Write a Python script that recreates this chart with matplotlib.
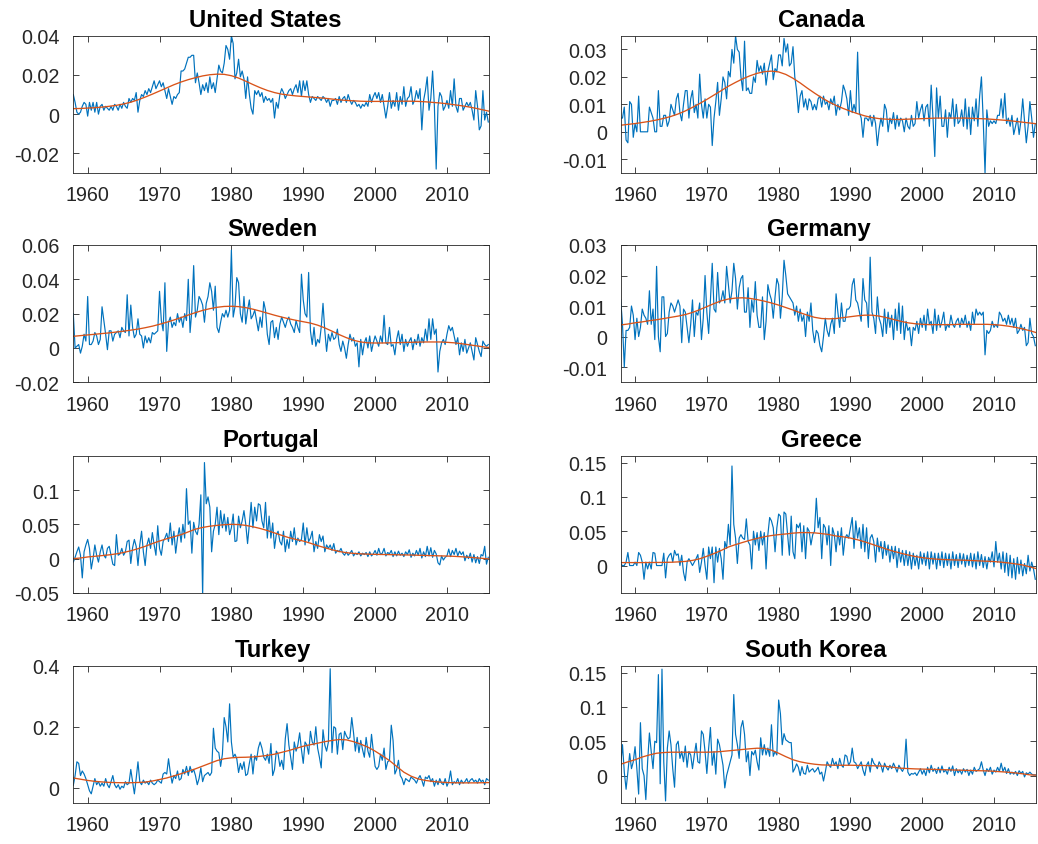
import numpy as np
import matplotlib
matplotlib.use("Agg")
import matplotlib.pyplot as plt
from matplotlib.ticker import FuncFormatter, FixedLocator

plt.rcParams['font.family'] = ['Liberation Sans', 'DejaVu Sans']
plt.rcParams['axes.unicode_minus'] = False

# ---------------- data (quarterly, starting 1958Q1) ----------------
start_year = 1958.0
countries = ["United States", "Canada", "Sweden", "Germany",
             "Portugal", "Greece", "Turkey", "South Korea"]

us = [
    0.010, 0.006, 0.001, 0.000,  0.001, 0.004, 0.006, 0.005,  -0.001, 0.006, 0.002, 0.006,
    0.001, 0.006, 0.000, 0.004,  0.005, 0.002, 0.004, 0.003,  0.002, 0.004, 0.002, 0.005,
    0.004, 0.002, 0.005, 0.003,  0.006, 0.004, 0.003, 0.008,  0.006, 0.008, 0.007, 0.011,
    0.001, 0.007, 0.010, 0.009,  0.012, 0.010, 0.013, 0.011,  0.014, 0.017, 0.013, 0.015,
    0.017, 0.014, 0.016, 0.012,  0.008, 0.013, 0.009, 0.005,  0.009, 0.008, 0.010, 0.011,
    0.022, 0.022, 0.023, 0.026,  0.029, 0.029, 0.030, 0.030,  0.016, 0.021, 0.016, 0.010,
    0.015, 0.012, 0.016, 0.011,  0.019, 0.013, 0.016, 0.011,  0.018, 0.025, 0.022, 0.021,
    0.026, 0.035, 0.033, 0.028,  0.040, 0.036, 0.018, 0.021,  0.028, 0.019, 0.022, 0.018,
    0.008, 0.019, 0.010, 0.003,  0.000, 0.012, 0.010, 0.012,  0.009, 0.011, 0.006, 0.009,
    0.007, 0.008, 0.006, 0.008,  -0.002, 0.006, 0.003, 0.010,  0.013, 0.011, 0.008, 0.010,
    0.012, 0.013, 0.010, 0.013,  0.015, 0.011, 0.017, 0.009,  0.017, 0.012, 0.017, 0.010,
    0.006, 0.009, 0.008, 0.007,  0.009, 0.008, 0.007, 0.009,  0.008, 0.006, 0.008, 0.004,
    0.007, 0.007, 0.008, 0.005,  0.009, 0.006, 0.008, 0.009,  0.006, 0.010, 0.007, 0.005,
    0.007, 0.006, 0.004, 0.005,  0.003, 0.005, 0.004, 0.006,  0.004, 0.010, 0.006, 0.009,
    0.011, 0.008, 0.011, 0.006,  0.010, 0.004, -0.002, 0.004,  0.011, 0.003, 0.007, 0.004,
    0.011, 0.002, 0.009, 0.005,  0.014, 0.004, 0.008, 0.009,  0.014, 0.005, 0.007, 0.012,
    0.008, 0.013, -0.008, 0.007,  0.012, 0.019, 0.002, 0.008,  0.022, 0.004, -0.028, 0.004,
    0.011, 0.009, 0.002, 0.004,  0.007, 0.003, 0.012, 0.004,  0.018, 0.004, 0.001, 0.008,
    0.008, 0.002, 0.004, 0.006,  0.004, 0.006, 0.002, -0.003,  0.012, 0.004, -0.008, -0.006,
    0.012, -0.003, 0.001, -0.004,
]
us_trend = [
    0.0028, 0.0029, 0.0031, 0.0033, 0.0036, 0.0040, 0.0045, 0.0052, 0.0061, 0.0073,
    0.0087, 0.0102, 0.0118, 0.0134, 0.0150, 0.0164, 0.0176, 0.0186, 0.0195, 0.0201,
    0.0204, 0.0203, 0.0196, 0.0184, 0.0168, 0.0151, 0.0135, 0.0121, 0.0110, 0.0102,
    0.0097, 0.0093, 0.0090, 0.0087, 0.0084, 0.0081, 0.0077, 0.0073, 0.0070, 0.0068,
    0.0066, 0.0065, 0.0065, 0.0065, 0.0066, 0.0066, 0.0066, 0.0066, 0.0065, 0.0063,
    0.0060, 0.0057, 0.0053, 0.0048, 0.0043, 0.0037, 0.0030, 0.0022, 0.0014,
]

canada = [
    0.005, 0.005, 0.009, -0.003,  -0.004, 0.011, 0.010, -0.002,  0.003, 0.000, 0.013, 0.000,
    0.000, 0.000, 0.000, 0.000,  0.009, 0.007, 0.005, 0.000,  0.000, 0.015, 0.002, 0.002,
    0.006, 0.006, 0.002, 0.004,  0.010, 0.008, 0.006, 0.012,  0.014, 0.007, 0.004, 0.010,
    0.015, 0.015, 0.005, 0.012,  0.015, 0.007, 0.010, 0.005,  0.021, 0.010, 0.005, 0.012,
    0.005, 0.010, 0.009, -0.005,  0.005, 0.011, 0.018, 0.006,  0.012, 0.020, 0.018, 0.012,
    0.022, 0.020, 0.030, 0.025,  0.035, 0.030, 0.029, 0.020,  0.015, 0.033, 0.015, 0.016,
    0.014, 0.014, 0.020, 0.018,  0.026, 0.022, 0.024, 0.021,  0.025, 0.017, 0.022, 0.025,
    0.028, 0.019, 0.023, 0.022,  0.028, 0.028, 0.024, 0.034,  0.029, 0.032, 0.024, 0.025,
    0.031, 0.020, 0.015, 0.007,  0.013, 0.015, 0.009, 0.012,  0.008, 0.012, 0.011, 0.008,
    0.010, 0.008, 0.012, 0.013,  0.009, 0.013, 0.010, 0.011,  0.008, 0.012, 0.010, 0.013,
    0.006, 0.010, 0.008, 0.011,  0.017, 0.015, 0.012, 0.006,  0.015, 0.007, 0.010, 0.007,
    0.029, 0.007, 0.005, -0.002,  0.005, 0.005, 0.004, 0.006,  0.002, 0.006, 0.003, -0.005,
    0.001, 0.005, 0.002, 0.010,  0.008, 0.000, 0.005, 0.003,  0.007, 0.001, 0.006, 0.002,
    0.005, 0.004, 0.000, 0.005,  0.002, 0.001, 0.006, 0.002,  0.003, 0.011, 0.005, 0.008,
    0.010, 0.004, 0.009, 0.010,  0.002, 0.017, 0.005, -0.009,  0.016, 0.005, 0.013, 0.002,
    0.002, 0.008, -0.002, 0.007,  0.005, 0.012, 0.002, 0.010,  0.003, 0.004, 0.008, 0.002,
    0.012, 0.001, 0.009, -0.001,  0.009, 0.004, 0.012, 0.002,  0.013, 0.020, 0.004, -0.015,
    0.008, 0.002, 0.004, 0.003,  0.004, 0.003, 0.006, 0.006,  0.012, 0.005, 0.014, 0.003,
    0.005, 0.002, 0.006, -0.001,  0.002, 0.005, -0.001, 0.004,  0.012, 0.004, -0.004, 0.002,
    0.011, 0.005, -0.002, 0.003,
]
canada_trend = [
    0.0024, 0.0027, 0.0030, 0.0034, 0.0038, 0.0043, 0.0049, 0.0056, 0.0065, 0.0076,
    0.0089, 0.0103, 0.0118, 0.0134, 0.0150, 0.0166, 0.0180, 0.0193, 0.0204, 0.0213,
    0.0219, 0.0221, 0.0218, 0.0209, 0.0195, 0.0178, 0.0159, 0.0141, 0.0124, 0.0109,
    0.0096, 0.0085, 0.0075, 0.0066, 0.0058, 0.0052, 0.0048, 0.0046, 0.0045, 0.0045,
    0.0046, 0.0047, 0.0048, 0.0049, 0.0050, 0.0050, 0.0050, 0.0050, 0.0050, 0.0049,
    0.0048, 0.0047, 0.0045, 0.0043, 0.0041, 0.0038, 0.0035, 0.0032, 0.0029,
]

sweden = [
    0.020, 0.000, 0.001, 0.002,  -0.003, 0.001, 0.008, 0.004,  0.030, 0.002, 0.002, 0.004,
    0.009, 0.007, 0.002, 0.005,  0.024, 0.016, 0.008, -0.001,  0.010, 0.010, 0.004, 0.008,
    0.009, 0.010, 0.006, 0.012,  0.010, 0.009, 0.031, 0.007,  0.025, 0.012, 0.006, 0.008,
    0.017, 0.008, 0.007, 0.000,  0.007, 0.003, 0.006, 0.003,  0.009, 0.008, 0.009, 0.010,
    0.033, 0.016, 0.010, 0.038,  -0.002, 0.015, 0.018, 0.012,  0.015, 0.013, 0.020, 0.015,
    0.018, 0.012, 0.020, 0.016,  0.040, 0.009, 0.022, 0.048,  0.018, 0.022, 0.030, 0.028,
    0.025, 0.015, 0.026, 0.030,  0.038, 0.033, 0.022, 0.036,  0.012, 0.009, 0.015, 0.020,
    0.018, 0.022, 0.018, 0.022,  0.057, 0.018, 0.024, 0.041,  0.038, 0.020, 0.015, 0.030,
    0.014, 0.022, 0.028, 0.017,  0.019, 0.022, 0.016, 0.010,  0.018, 0.012, 0.027, 0.022,
    0.008, 0.002, 0.015, 0.016,  0.006, 0.012, 0.005, 0.014,  0.018, 0.015, 0.012, 0.016,
    0.018, 0.014, 0.012, 0.009,  0.016, 0.012, 0.009, 0.043,  0.028, 0.020, 0.018, 0.044,
    0.010, 0.002, 0.012, 0.001,  0.005, 0.003, 0.012, 0.026,  0.010, -0.002, 0.008, 0.004,
    0.009, 0.005, 0.006, 0.011,  0.002, -0.002, 0.004, 0.000,  -0.006, 0.002, 0.008, 0.004,
    0.006, 0.001, 0.003, -0.011,  0.005, -0.004, 0.003, 0.006,  0.000, 0.007, -0.002, 0.003,
    0.007, 0.004, 0.001, 0.007,  0.003, 0.019, 0.003, 0.002,  0.012, 0.001, 0.002, -0.004,
    0.005, 0.010, 0.002, 0.008,  -0.002, 0.005, 0.001, 0.004,  0.006, -0.001, 0.005, 0.002,
    0.008, 0.001, 0.006, 0.003,  0.011, 0.004, 0.017, 0.005,  0.017, 0.008, 0.011, -0.014,
    -0.002, 0.003, 0.005, 0.002,  0.008, 0.013, 0.010, 0.012,  0.007, 0.002, 0.006, -0.004,
    0.003, -0.002, 0.005, -0.003,  0.000, 0.003, -0.002, -0.007,  0.006, 0.002, -0.002, -0.005,
    0.004, 0.002, 0.001, 0.002,
]
sweden_trend = [
    0.0068, 0.0072, 0.0076, 0.0080, 0.0084, 0.0088, 0.0093, 0.0098, 0.0104, 0.0110,
    0.0118, 0.0127, 0.0138, 0.0150, 0.0163, 0.0177, 0.0192, 0.0206, 0.0219, 0.0229,
    0.0237, 0.0242, 0.0243, 0.0241, 0.0235, 0.0226, 0.0215, 0.0203, 0.0191, 0.0180,
    0.0170, 0.0161, 0.0153, 0.0145, 0.0133, 0.0117, 0.0098, 0.0078, 0.0060, 0.0045,
    0.0035, 0.0030, 0.0029, 0.0029, 0.0030, 0.0031, 0.0032, 0.0033, 0.0034, 0.0035,
    0.0035, 0.0035, 0.0033, 0.0030, 0.0025, 0.0019, 0.0013, 0.0007, 0.0002,
]

germany = [
    0.012, 0.004, -0.010, 0.002,  0.002, 0.003, 0.010, 0.007,  -0.001, 0.006, 0.000, 0.003,
    0.009, 0.007, 0.006, 0.004,  0.015, 0.004, 0.009, -0.001,  0.023, 0.000, -0.005, 0.013,
    0.013, 0.000, 0.001, 0.008,  0.011, 0.010, 0.008, 0.010,  0.012, 0.010, -0.002, 0.009,
    0.008, 0.003, -0.002, 0.004,  0.012, 0.000, 0.008, 0.007,  0.011, -0.001, 0.006, 0.020,
    0.008, 0.001, 0.012, 0.024,  0.009, 0.008, 0.021, 0.011,  0.012, 0.015, 0.011, 0.023,
    0.017, 0.011, 0.015, 0.024,  0.019, 0.009, 0.016, 0.019,  0.020, 0.008, 0.008, 0.016,
    0.003, 0.012, 0.008, 0.018,  0.007, 0.003, 0.003, 0.013,  -0.001, 0.005, 0.017, 0.014,
    0.012, 0.006, 0.013, 0.019,  0.017, 0.006, 0.013, 0.025,  0.020, 0.014, 0.013, 0.012,
    0.011, 0.007, 0.010, 0.005,  0.009, 0.005, 0.007, 0.000,  0.008, 0.005, 0.011, 0.002,
    -0.002, 0.002, 0.001, -0.003,  -0.005, 0.000, 0.006, 0.002,  0.000, 0.004, 0.006, 0.001,
    0.014, 0.008, 0.003, 0.011,  0.005, 0.005, 0.009, 0.009,  0.010, 0.017, 0.019, 0.012,
    0.011, 0.008, 0.005, 0.019,  0.012, 0.011, 0.003, 0.026,  0.008, 0.006, 0.001, 0.013,
    0.006, 0.004, 0.000, 0.009,  0.001, 0.008, 0.003, 0.007,  -0.001, 0.009, 0.002, 0.011,
    0.001, 0.010, -0.001, 0.005,  0.002, 0.003, -0.003, 0.003,  0.002, 0.005, 0.001, 0.006,
    0.003, 0.007, 0.002, 0.009,  0.004, 0.005, 0.001, 0.009,  0.002, 0.007, 0.003, 0.005,
    0.008, 0.002, 0.004, 0.003,  0.007, 0.004, 0.003, 0.005,  0.006, 0.003, 0.006, 0.004,
    0.007, 0.003, 0.005, 0.002,  0.008, 0.004, 0.009, 0.007,  0.008, 0.007, 0.008, -0.006,
    0.002, 0.001, 0.002, 0.005,  0.003, 0.004, 0.003, 0.008,  0.007, 0.005, 0.006, 0.004,
    0.007, 0.004, 0.006, 0.003,  0.006, 0.001, 0.002, 0.004,  0.002, 0.003, -0.003, -0.002,
    0.006, 0.001, 0.000, -0.003,
]
germany_trend = [
    0.0038, 0.0041, 0.0045, 0.0048, 0.0052, 0.0055, 0.0059, 0.0063, 0.0067, 0.0072,
    0.0079, 0.0088, 0.0098, 0.0108, 0.0117, 0.0123, 0.0126, 0.0127, 0.0125, 0.0121,
    0.0116, 0.0110, 0.0103, 0.0095, 0.0087, 0.0078, 0.0070, 0.0063, 0.0059, 0.0058,
    0.0059, 0.0062, 0.0065, 0.0068, 0.0070, 0.0070, 0.0067, 0.0062, 0.0056, 0.0050,
    0.0045, 0.0042, 0.0040, 0.0039, 0.0039, 0.0039, 0.0039, 0.0040, 0.0040, 0.0040,
    0.0040, 0.0040, 0.0039, 0.0037, 0.0034, 0.0030, 0.0025, 0.0019, 0.0012,
]

portugal = [
    -0.005, 0.002, 0.010, 0.017,  0.005, -0.028, 0.010, 0.020,  0.028, 0.015, -0.015, 0.000,
    0.020, 0.005, -0.005, 0.010,  0.020, 0.005, 0.001, 0.015,  0.018, 0.005, -0.008, -0.010,
    0.035, 0.005, 0.007, 0.015,  0.005, 0.010, 0.025, 0.027,  -0.007, 0.016, 0.028, 0.018,
    -0.010, 0.020, 0.040, 0.010,  -0.010, 0.020, 0.030, 0.015,  0.038, 0.020, 0.005, 0.048,
    0.015, 0.005, 0.025, 0.030,  0.037, 0.025, 0.052, 0.020,  0.040, 0.008, 0.030, 0.045,
    0.024, 0.050, 0.030, 0.102,  0.050, 0.055, 0.008, 0.053,  0.040, 0.035, 0.050, 0.093,
    -0.055, 0.140, 0.080, 0.090,  0.075, 0.010, 0.040, 0.050,  0.075, 0.035, 0.070, 0.045,
    0.065, 0.040, 0.060, 0.035,  0.045, 0.065, 0.025, 0.026,  0.062, 0.045, 0.055, 0.070,
    0.050, 0.022, 0.050, 0.082,  0.045, 0.075, 0.055, 0.080,  0.078, 0.055, 0.045, 0.082,
    0.030, 0.062, 0.030, 0.052,  0.015, 0.035, 0.040, 0.025,  0.020, 0.040, 0.010, 0.028,
    0.015, 0.040, 0.025, 0.045,  0.020, 0.030, 0.025, 0.028,  0.052, 0.020, 0.045, 0.025,
    0.030, 0.040, 0.010, 0.025,  0.015, 0.035, 0.025, 0.033,  0.010, 0.020, 0.015, 0.020,
    0.012, 0.022, 0.008, 0.012,  0.010, 0.015, 0.008, 0.005,  0.010, 0.005, 0.008, 0.012,
    0.004, 0.008, 0.006, 0.010,  0.004, 0.008, 0.006, 0.009,  0.003, 0.010, 0.004, 0.007,
    0.012, 0.005, 0.015, 0.006,  0.008, 0.015, 0.004, 0.009,  0.007, 0.012, 0.003, 0.010,
    0.004, 0.011, 0.005, 0.008,  0.003, 0.010, 0.006, 0.013,  0.002, 0.008, 0.004, 0.012,
    0.005, 0.015, 0.001, 0.010,  0.003, 0.018, 0.004, 0.016,  0.002, 0.012, 0.007, -0.006,
    -0.009, 0.004, -0.002, 0.002,  0.004, 0.014, 0.003, 0.012,  0.006, 0.015, 0.004, 0.011,
    0.006, 0.010, -0.003, 0.005,  0.000, 0.008, -0.005, 0.006,  -0.006, 0.003, -0.007, 0.006,
    0.004, 0.018, -0.008, 0.002,
]
portugal_trend = [
    0.0000, 0.0010, 0.0025, 0.0035, 0.0045, 0.0056, 0.0070, 0.0090, 0.0115, 0.0145,
    0.0180, 0.0220, 0.0257, 0.0290, 0.0320, 0.0350, 0.0390, 0.0430, 0.0455, 0.0473,
    0.0485, 0.0495, 0.0500, 0.0497, 0.0485, 0.0465, 0.0440, 0.0410, 0.0375, 0.0340,
    0.0306, 0.0280, 0.0257, 0.0225, 0.0190, 0.0160, 0.0130, 0.0105, 0.0087, 0.0077,
    0.0070, 0.0066, 0.0063, 0.0061, 0.0059, 0.0057, 0.0055, 0.0053, 0.0050, 0.0047,
    0.0044, 0.0041, 0.0038, 0.0034, 0.0028, 0.0021, 0.0013, 0.0004, -0.0005,
]

greece = [
    0.002, 0.000, 0.000, 0.005,  0.019, 0.000, 0.000, 0.000,  0.005, 0.000, 0.019, 0.015,
    0.005, -0.020, 0.005, -0.005,  0.005, -0.005, 0.019, 0.018,  0.000, 0.000, 0.000, 0.000,
    0.018, -0.018, 0.010, 0.015,  0.018, 0.005, 0.022, 0.015,  0.017, 0.000, 0.015, -0.010,
    -0.022, 0.005, 0.010, 0.005,  0.000, 0.005, 0.010, 0.016,  -0.010, 0.005, 0.025, 0.000,
    -0.020, 0.027, 0.010, 0.027,  -0.025, 0.027, 0.005, 0.025,  0.010, -0.020, 0.035, 0.025,
    0.060, 0.030, 0.145, 0.060,  0.040, 0.003, 0.040, 0.045,  0.040, 0.038, 0.068, 0.035,
    0.030, -0.005, 0.050, 0.030,  0.048, 0.022, 0.050, 0.030,  0.048, -0.005, 0.045, 0.070,
    0.065, 0.055, 0.020, 0.055,  0.075, 0.072, 0.015, 0.078,  0.075, 0.045, 0.015, 0.072,
    0.020, 0.010, 0.060, 0.055,  0.062, 0.020, 0.058, 0.010,  0.055, 0.050, 0.030, 0.045,
    0.050, 0.098, 0.055, 0.070,  0.010, 0.060, 0.055, 0.030,  0.058, 0.000, 0.055, 0.045,
    0.020, 0.050, 0.030, 0.055,  0.015, 0.040, 0.045, 0.040,  0.055, 0.070, 0.025, 0.065,
    0.040, 0.055, 0.025, 0.060,  0.020, 0.055, 0.010, 0.040,  0.045, 0.035, 0.005, 0.040,
    0.020, 0.035, 0.010, 0.035,  0.015, 0.030, 0.005, 0.028,  0.010, 0.028, -0.003, 0.025,
    0.005, 0.022, 0.000, 0.022,  0.000, 0.020, -0.005, 0.018,  0.000, 0.015, -0.005, 0.020,
    0.002, 0.018, 0.000, 0.020,  -0.005, 0.020, 0.002, 0.018,  -0.005, 0.018, 0.000, 0.020,
    -0.003, 0.018, 0.000, 0.017,  -0.005, 0.020, 0.000, 0.016,  -0.003, 0.018, 0.002, 0.017,
    -0.002, 0.015, 0.000, 0.018,  -0.002, 0.017, -0.005, 0.020,  0.000, 0.016, -0.003, 0.013,
    -0.005, 0.012, 0.005, 0.020,  -0.002, 0.035, 0.005, 0.018,  -0.005, 0.020, -0.010, 0.018,
    -0.015, 0.015, -0.018, 0.010,  -0.020, 0.012, -0.012, 0.008,  -0.015, 0.003, -0.012, 0.015,
    -0.008, 0.005, -0.005, -0.020,
]
greece_trend = [
    0.0043, 0.0043, 0.0043, 0.0043, 0.0044, 0.0045, 0.0046, 0.0048, 0.0053, 0.0060,
    0.0075, 0.0098, 0.0135, 0.0175, 0.0220, 0.0270, 0.0305, 0.0337, 0.0368, 0.0395,
    0.0420, 0.0437, 0.0450, 0.0460, 0.0472, 0.0480, 0.0480, 0.0476, 0.0465, 0.0452,
    0.0430, 0.0418, 0.0400, 0.0375, 0.0345, 0.0310, 0.0275, 0.0240, 0.0208, 0.0180,
    0.0154, 0.0132, 0.0115, 0.0102, 0.0093, 0.0087, 0.0083, 0.0080, 0.0077, 0.0073,
    0.0067, 0.0063, 0.0058, 0.0049, 0.0038, 0.0024, 0.0008, -0.0020, -0.0048,
]

turkey = [
    0.008, 0.040, 0.085, 0.080,  0.040, 0.055, 0.045, 0.030,  0.010, -0.010, -0.020, 0.005,
    0.030, 0.010, 0.020, 0.005,  0.015, 0.005, 0.030, 0.010,  0.000, 0.020, 0.040, 0.010,
    0.000, 0.010, -0.005, 0.005,  0.000, 0.020, 0.010, 0.015,  0.060, 0.020, -0.020, 0.030,
    0.085, 0.020, 0.010, 0.025,  0.015, 0.020, 0.010, 0.025,  0.015, 0.010, 0.015, 0.025,
    0.020, 0.015, 0.045, 0.050,  0.045, 0.095, 0.050, 0.015,  0.040, 0.030, 0.055, 0.025,
    0.030, 0.060, 0.045, 0.070,  0.040, 0.070, 0.050, 0.060,  0.040, 0.010, 0.030, 0.065,
    0.020, 0.040, 0.045, 0.050,  0.040, 0.050, 0.195, 0.130,  0.120, 0.115, 0.070, 0.110,
    0.230, 0.200, 0.150, 0.275,  0.150, 0.100, 0.110, 0.095,  0.050, 0.080, 0.060, 0.085,
    0.040, 0.045, 0.080, 0.110,  0.045, 0.105, 0.090, 0.130,  0.150, 0.130, 0.100, 0.090,
    0.110, 0.080, 0.145, 0.040,  0.060, 0.120, 0.110, 0.070,  0.090, 0.060, 0.160, 0.210,
    0.140, 0.100, 0.060, 0.150,  0.120, 0.140, 0.180, 0.125,  0.080, 0.150, 0.140, 0.110,
    0.185, 0.150, 0.140, 0.200,  0.130, 0.100, 0.065, 0.190,  0.140, 0.120, 0.150, 0.390,
    0.115, 0.200, 0.195, 0.110,  0.175, 0.180, 0.125, 0.185,  0.170, 0.160, 0.165, 0.230,
    0.180, 0.120, 0.165, 0.115,  0.155, 0.125, 0.100, 0.165,  0.120, 0.100, 0.175, 0.120,
    0.070, 0.060, 0.070, 0.110,  0.090, 0.130, 0.060, 0.085,  0.090, 0.205, 0.155, 0.045,
    0.060, 0.090, 0.040, 0.030,  0.010, 0.030, 0.025, 0.020,  0.035, 0.030, 0.025, 0.015,
    0.030, 0.040, 0.025, 0.005,  0.035, 0.030, 0.040, 0.020,  0.030, 0.005, 0.025, 0.010,
    0.030, 0.015, 0.010, 0.030,  0.005, 0.020, 0.055, 0.010,  0.020, 0.015, 0.030, 0.010,
    0.025, 0.015, 0.020, 0.030,  0.015, 0.025, 0.030, 0.020,  0.025, 0.015, 0.030, 0.020,
    0.025, 0.010, 0.030, 0.025,
]
turkey_trend = [
    0.0320, 0.0280, 0.0240, 0.0210, 0.0190, 0.0175, 0.0168, 0.0164, 0.0165, 0.0172,
    0.0185, 0.0220, 0.0270, 0.0320, 0.0390, 0.0460, 0.0540, 0.0620, 0.0710, 0.0800,
    0.0890, 0.0950, 0.0980, 0.0995, 0.1000, 0.1010, 0.1030, 0.1060, 0.1100, 0.1160,
    0.1220, 0.1290, 0.1360, 0.1410, 0.1460, 0.1510, 0.1550, 0.1580, 0.1570, 0.1510,
    0.1430, 0.1330, 0.1200, 0.1050, 0.0890, 0.0700, 0.0510, 0.0380, 0.0290, 0.0240,
    0.0207, 0.0185, 0.0170, 0.0164, 0.0160, 0.0160, 0.0160, 0.0165, 0.0170,
]

korea = [
    0.015, 0.045, 0.005, -0.020,  0.005, 0.032, 0.010, 0.020,  0.042, 0.010, -0.027, 0.077,
    0.010, 0.000, -0.035, 0.020,  0.062, 0.035, 0.010, 0.050,  0.048, 0.147, -0.012, 0.155,
    0.020, -0.037, 0.040, 0.065,  0.045, 0.010, -0.017, 0.045,  0.050, 0.025, 0.035, 0.020,
    0.043, 0.012, 0.035, 0.030,  0.010, 0.030, 0.047, 0.020,  0.018, 0.065, 0.060, 0.035,
    0.003, 0.040, 0.070, 0.015,  0.035, 0.002, 0.053, 0.045,  0.030, 0.015, -0.018, 0.000,
    0.010, 0.020, 0.030, 0.118,  0.060, 0.045, 0.025, 0.070,  0.080, 0.060, 0.020, 0.035,
    0.000, 0.035, 0.030, 0.037,  0.020, 0.008, 0.055, 0.030,  0.045, 0.030, 0.040, 0.028,
    0.074, 0.028, 0.035, 0.030,  0.110, 0.090, 0.045, 0.061,  0.052, 0.050, 0.048, 0.048,
    0.005, 0.010, 0.017, 0.012,  0.000, 0.013, 0.003, 0.002,  0.015, 0.005, 0.008, 0.010,
    0.005, 0.008, 0.012, 0.002,  0.005, -0.008, 0.005, 0.020,  0.015, 0.012, 0.025, 0.015,
    0.020, 0.010, 0.025, 0.015,  0.012, 0.030, 0.028, 0.015,  0.020, 0.040, 0.020, 0.018,
    0.010, 0.015, 0.020, 0.008,  0.000, 0.015, 0.020, 0.005,  0.025, 0.018, 0.015, 0.010,
    0.020, 0.015, 0.005, 0.018,  0.012, 0.008, 0.015, 0.010,  0.018, 0.012, 0.005, 0.015,
    0.010, 0.006, 0.012, 0.053,  0.005, 0.000, 0.003, 0.002,  0.004, 0.000, 0.005, 0.010,
    0.002, 0.008, 0.000, 0.012,  0.004, 0.015, 0.006, 0.010,  0.003, 0.012, 0.004, 0.014,
    0.005, 0.008, 0.002, 0.012,  0.006, 0.014, 0.000, 0.010,  0.004, 0.008, 0.002, 0.010,
    0.005, 0.009, 0.000, 0.008,  0.002, 0.012, 0.006, 0.008,  0.010, 0.020, 0.008, 0.000,
    0.010, 0.006, 0.012, 0.002,  0.008, 0.005, 0.012, 0.006,  0.018, 0.006, 0.012, 0.003,
    0.010, 0.002, 0.005, 0.002,  0.006, 0.000, 0.007, 0.003,  0.006, -0.002, 0.004, 0.002,
    0.005, 0.002, 0.001, 0.001,
]
korea_trend = [
    0.0165, 0.0200, 0.0230, 0.0270, 0.0300, 0.0325, 0.0335, 0.0340, 0.0340, 0.0340,
    0.0340, 0.0340, 0.0340, 0.0343, 0.0350, 0.0360, 0.0370, 0.0380, 0.0390, 0.0398,
    0.0395, 0.0370, 0.0325, 0.0275, 0.0230, 0.0200, 0.0180, 0.0165, 0.0155, 0.0152,
    0.0150, 0.0150, 0.0150, 0.0148, 0.0146, 0.0143, 0.0140, 0.0133, 0.0120, 0.0107,
    0.0102, 0.0097, 0.0094, 0.0091, 0.0088, 0.0085, 0.0082, 0.0079, 0.0076, 0.0073,
    0.0070, 0.0068, 0.0062, 0.0055, 0.0048, 0.0038, 0.0025, 0.0010, 0.0005,
]

series = [us, canada, sweden, germany, portugal, greece, turkey, korea]
trends = [us_trend, canada_trend, sweden_trend, germany_trend,
          portugal_trend, greece_trend, turkey_trend, korea_trend]
ylims = [(-0.03, 0.04), (-0.015, 0.035), (-0.02, 0.06), (-0.015, 0.03),
         (-0.05, 0.15), (-0.04, 0.16), (-0.05, 0.4), (-0.04, 0.16)]
yticks = [[-0.02, 0, 0.02, 0.04], [-0.01, 0, 0.01, 0.02, 0.03],
          [-0.02, 0, 0.02, 0.04, 0.06], [-0.01, 0, 0.01, 0.02, 0.03],
          [-0.05, 0, 0.05, 0.1], [0, 0.05, 0.1, 0.15],
          [0, 0.2, 0.4], [0, 0.05, 0.1, 0.15]]
xticks = [1960, 1970, 1980, 1990, 2000, 2010]

# ---------------- layout ----------------
W, H = 1038, 845
fig = plt.figure(figsize=(W / 100, H / 100), dpi=100)
col_left = [73.3, 620.7]
col_w = [415.7, 415.3]
row_top = [36.7, 246.0, 456.7, 666.7]
row_h = 137.3
title_x = [0.461, 0.482, 0.480, 0.4775, 0.475, 0.483, 0.481, 0.469]

blue = '#0072BD'
orange = '#D95319'
dark = '#262626'

fmt = FuncFormatter(lambda v, p: '%g' % round(v, 6))

for i, name in enumerate(countries):
    r, c = divmod(i, 2)
    l = col_left[c] / W
    b = 1 - (row_top[r] + row_h) / H
    ax = fig.add_axes([l, b, col_w[c] / W, row_h / H])
    y = np.asarray(series[i])
    t = start_year + 0.25 * np.arange(len(y))
    tr = np.asarray(trends[i])
    tt = start_year + np.arange(len(tr))
    ax.plot(t, y, color=blue, lw=0.85, solid_joinstyle='round')
    ax.plot(tt, tr, color=orange, lw=0.95)
    ax.set_xlim(1958.0, 2015.85)
    ax.set_ylim(*ylims[i])
    ax.xaxis.set_major_locator(FixedLocator(xticks))
    ax.yaxis.set_major_locator(FixedLocator(yticks[i]))
    ax.yaxis.set_major_formatter(fmt)
    ax.tick_params(direction='in', top=True, right=True, length=4.5, width=0.6,
                   color=dark, labelcolor=dark, labelsize=14.2)
    ax.tick_params(axis='x', pad=8.8)
    ax.tick_params(axis='y', pad=10.0)
    for s in ax.spines.values():
        s.set_color(dark)
        s.set_linewidth(0.6)
    ttl = ax.set_title(name, fontsize=17.2, fontweight='bold', color='black', pad=7)
    ttl.set_x(title_x[i])

fig.savefig('out.png', dpi=100)
